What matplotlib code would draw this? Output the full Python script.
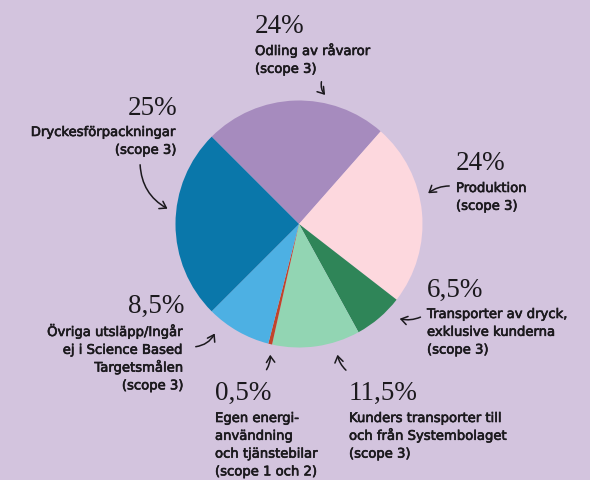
import matplotlib
matplotlib.use("Agg")
import matplotlib.pyplot as plt
from matplotlib.patches import FancyArrowPatch
import matplotlib.patheffects as pe

# ---- data ----
categories = [
    "Odling av råvaror",
    "Produktion",
    "Transporter av dryck, exklusive kunderna",
    "Kunders transporter till och från Systembolaget",
    "Egen energianvändning och tjänstebilar",
    "Övriga utsläpp/Ingår ej i Science Based Targetsmålen",
    "Dryckesförpackningar",
]
values = [24, 24, 6.5, 11.5, 0.5, 8.5, 25]
pct_labels = ["24%", "24%", "6,5%", "11,5%", "0,5%", "8,5%", "25%"]
label_lines = [
    ["Odling av råvaror", "(scope 3)"],
    ["Produktion", "(scope 3)"],
    ["Transporter av dryck,", "exklusive kunderna", "(scope 3)"],
    ["Kunders transporter till", "och från Systembolaget", "(scope 3)"],
    ["Egen energi-", "användning", "och tjänstebilar", "(scope 1 och 2)"],
    ["Övriga utsläpp/Ingår", "ej i Science Based", "Targetsmålen", "(scope 3)"],
    ["Dryckesförpackningar", "(scope 3)"],
]
colors = ["#a68bbe", "#fdd8de", "#2f8558", "#92d5b3", "#c1442b", "#4db0e3", "#0a77aa"]

BG = "#d3c4de"
W, H = 590, 481

fig = plt.figure(figsize=(W / 100, H / 100), dpi=100, facecolor=BG)
ax = fig.add_axes([0, 0, 1, 1])
ax.set_facecolor(BG)

def Y(y):
    return H - y

ax.pie(values, colors=colors, startangle=135, counterclock=False,
       center=(299, Y(225)), radius=123.5,
       wedgeprops=dict(linewidth=0))
ax.set_xlim(0, W)
ax.set_ylim(0, H)
ax.set_aspect("auto")
ax.axis("off")

# layout: (x, pct baseline, align, first line baseline)
layout = [
    (255, 33, "left", 56),
    (456, 170, "left", 193),
    (427, 297, "left", 319),
    (349, 400, "left", 423),
    (215, 400, "left", 423),
    (184, 313, "right", 337),
    (177, 115, "right", 137),
]
LS = 17.8
TXT = "#1b191d"
stroke = [pe.withStroke(linewidth=0.45, foreground=TXT)]
for (x, yp, ha, y0), pct, lines in zip(layout, pct_labels, label_lines):
    ax.text(x, Y(yp), pct, ha=ha, va="baseline", fontsize=19.5,
            family="Liberation Serif", color=TXT)
    for i, ln in enumerate(lines):
        ax.text(x, Y(y0 + i * LS), ln, ha=ha, va="baseline", fontsize=9.5,
                family="DejaVu Sans", color=TXT, path_effects=stroke)

arrows = [
    ((322, 80), (327, 98), 0.3),
    ((140, 163), (170, 211), 0.3),
    ((452, 187), (426, 196), 0.2),
    ((423, 317), (397, 319), -0.2),
    ((193, 348), (216, 332), 0.3),
    ((265, 373), (270, 353), 0.2),
    ((348, 373), (337, 353), -0.2),
]
for (a, b, rad) in arrows:
    p = FancyArrowPatch((a[0], Y(a[1])), (b[0], Y(b[1])),
                        connectionstyle=f"arc3,rad={rad}",
                        arrowstyle="->,head_length=0.45,head_width=0.3",
                        mutation_scale=10, lw=1.1, color=TXT)
    ax.add_patch(p)

fig.savefig("out.png", dpi=100, facecolor=BG)
